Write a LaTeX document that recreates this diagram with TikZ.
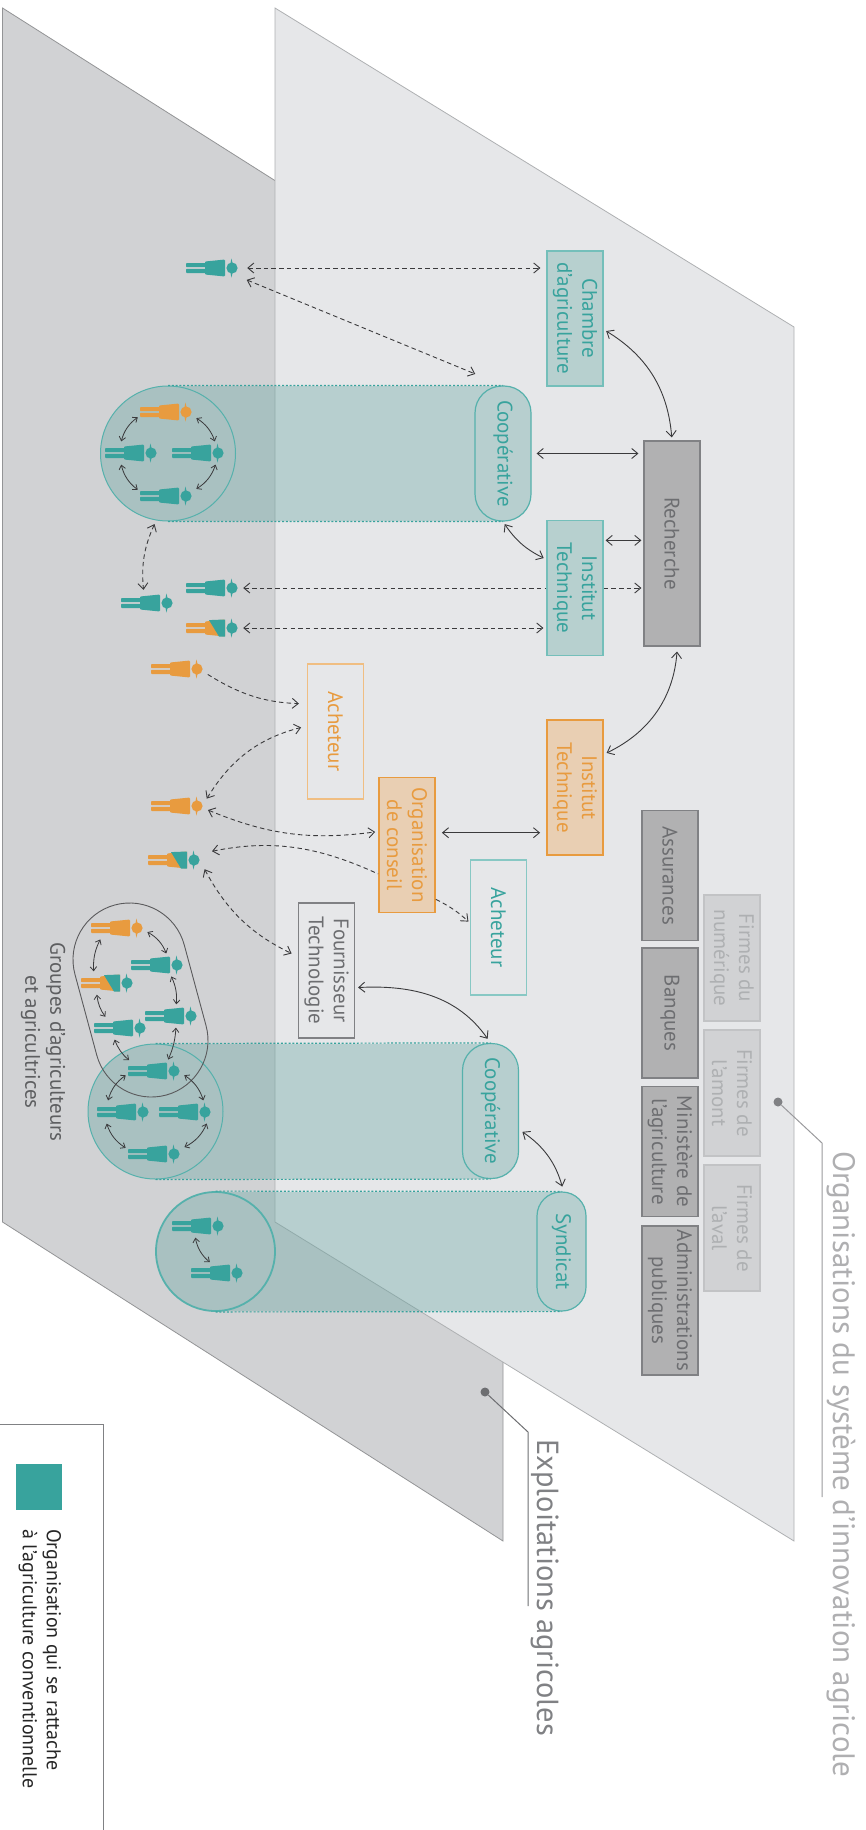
\documentclass[tikz,border=0pt]{standalone}
\usepackage{fontspec}
\setmainfont{PT Sans}
\usetikzlibrary{arrows.meta}
\definecolor{tealc}{HTML}{38A39D}
\definecolor{orangec}{HTML}{E89B3F}
\definecolor{linec}{HTML}{3A3A3C}
\definecolor{greyt}{HTML}{6D6E71}
\definecolor{mintfill}{HTML}{B7D0CF}
\definecolor{peachfill}{HTML}{E9CFB3}
\definecolor{greyline}{HTML}{808184}
\definecolor{greyfill}{HTML}{B1B1B2}
\definecolor{firmline}{HTML}{C2C3C5}
\definecolor{darkplane}{HTML}{D1D2D4}
\definecolor{lightplane}{HTML}{E6E7E9}
\definecolor{firmtext}{HTML}{AEB0B2}
\definecolor{pipec}{HTML}{58A09B}
\tikzset{
    barb/.tip={Straight Barb[length=6pt,width=10pt]},
    txt/.style={inner sep=0pt, rotate=-90, align=center, font=\fontsize{21}{25}\selectfont},
    orgbox/.style={txt, minimum width=135pt, minimum height=56pt, line width=1.2pt},
    boxteal/.style={orgbox, draw=tealc!70, fill=mintfill, text=tealc},
    boxline/.style={orgbox, draw=tealc!60, text=tealc},
    boxround/.style={orgbox, draw=tealc!85, text=tealc, rounded corners=27pt},
    boxorange/.style={orgbox, draw=orangec, line width=1.8pt, fill=peachfill, text=orangec},
    boxorline/.style={orgbox, draw=orangec!65, text=orangec},
    boxgrey/.style={orgbox, draw=greyline, fill=greyfill, text=greyt, minimum width=130pt},
    boxfirm/.style={orgbox, draw=firmline, fill=darkplane, text=firmtext, minimum width=126pt},
    ring/.style={circle, draw=tealc!85, line width=1pt, inner sep=0pt, minimum size=135pt},
    rim/.style={tealc, line width=1.2pt, dash pattern=on 2pt off 1.8pt},
    link/.style={draw=linec, line width=.9pt, barb-barb},
    dashlink/.style={link, dash pattern=on 4.5pt off 3.2pt},
    tinylink/.style={draw=linec, line width=.8pt, shorten >=2.5pt, shorten <=2.5pt, {Straight Barb[length=4pt,width=6.5pt]}-{Straight Barb[length=4pt,width=6.5pt]}},
    leaddot/.style={circle, inner sep=0pt, minimum size=9pt},
    pics/person/.style 2 args={code={
        \fill[#1, rounded corners=.8pt] (-46,-5) rectangle (-26,-.8) (-46,.8) rectangle (-26,5);
        \fill[#1, rounded corners=1pt] (-27,-6.5) -- (-7,-8.5) -- (-7,8.5) -- (-27,6.5) -- cycle;
        \fill[#2] (0,0) circle (5.6pt);
        \fill[#2] (-.5,-9.5) .. controls (1.2,-5) and (1.2,5) .. (-.5,9.5) .. controls (-2.2,5) and (-2.2,-5) .. (-.5,-9.5);
        \node[inner sep=0pt, minimum width=54pt, minimum height=18pt] (-bd) at (-19,0) {};
    }},
    pics/personmix/.style={code={
        \pic {person={orangec}{tealc}};
        \fill[tealc] (-23,-7.9) -- (-7,-8.5) -- (-7,8.5) -- (-13,8.5) -- cycle;
        \node[inner sep=0pt, minimum width=54pt, minimum height=18pt] (-bd) at (-19,0) {};
    }},
}
\begin{document}
\begin{tikzpicture}[x=1pt,y=-1pt]
    \useasboundingbox (0,0) rectangle (865,1830);
    % the two planes
    \filldraw[fill=darkplane, draw=greyline!85, line width=.8pt] (2.5,8) -- (503,325) -- (503,1541) -- (2.5,1222) -- cycle;
    \filldraw[fill=lightplane, draw=firmtext, line width=.8pt] (275,8) -- (794,327) -- (794,1541) -- (275,1222) -- cycle;

    % pipes between circles and organisations
    \begin{scope}[transparency group, opacity=.33]
        \fill[pipec] (168,453.5) circle (67.5pt);
        \fill[pipec] (168,386) rectangle (503,521);
        \fill[pipec, rounded corners=27pt] (475,386) rectangle (531,521);
    \end{scope}
    \begin{scope}[transparency group, opacity=.33]
        \fill[pipec] (155.5,1111.5) circle (67.5pt);
        \fill[pipec] (155.5,1044) rectangle (490,1179);
        \fill[pipec, rounded corners=27pt] (463,1044) rectangle (518,1179);
    \end{scope}
    \begin{scope}[transparency group, opacity=.33]
        \fill[pipec] (215.5,1251.5) circle (59.5pt);
        \fill[pipec] (215.5,1192) rectangle (561,1311);
        \fill[pipec, rounded corners=24pt] (537,1192) rectangle (586,1311);
    \end{scope}

    % organisations
    \node[boxteal] (chambre) at (575,318.5) {Chambre\\d'agriculture};
    \node[boxround] (coopa) at (503,453.5) {Coopérative};
    \node[boxgrey, minimum width=205pt] (rech) at (672,543.5) {Recherche};
    \node[boxteal] (insta) at (575,588) {Institut\\Technique};
    \node[boxorange] (instb) at (575,787.5) {Institut\\Technique};
    \node[boxorline] (achb) at (335.5,731.5) {Acheteur};
    \node[boxorange] (orga) at (407,845) {Organisation\\de conseil};
    \node[boxline] (acht) at (498.5,927.5) {Acheteur};
    \node[orgbox, draw=greyline, text=greyt] (four) at (326.5,970.5) {Fournisseur\\Technologie};
    \node[boxround] (coopb) at (490.5,1111) {Coopérative};
    \node[boxround, minimum width=119pt, minimum height=49pt, rounded corners=24pt] (synd) at (561.5,1251.5) {Syndicat};

    \node[boxgrey] (assu) at (670,875.5) {Assurances};
    \node[boxgrey] (banq) at (670,1013) {Banques};
    \node[boxgrey] (mini) at (670,1151.5) {Ministère de\\l'agriculture};
    \node[boxgrey, minimum width=149pt] (admi) at (670,1300.5) {Administrations\\publiques};
    \node[boxfirm] (firma) at (732,958) {Firmes du\\numérique};
    \node[boxfirm] (firmb) at (732,1093) {Firmes de\\l'amont};
    \node[boxfirm] (firmc) at (732,1228) {Firmes de\\l'aval};

    % circles and the group
    \node[ring] (circa) at (168,453.5) {};
    \node[ring] (circb) at (155.5,1111.5) {};
    \node[ring, minimum size=119pt, line width=1.8pt] (circc) at (215.5,1251.5) {};
    \node[draw=greyline!70!black, line width=.9pt, rounded corners=56.6pt, minimum width=113.2pt, minimum height=196.9pt, rotate=15.1, inner sep=0pt] (grp) at (140.5,1000) {};
    \draw[rim] (circa.north) -- (coopa.west);
    \draw[rim] (circa.south) -- (coopa.east);
    \draw[rim] (circb.north) -- (coopb.west);
    \draw[rim] (circb.south) -- (coopb.east);
    \draw[rim] (circc.north) -- (synd.west);
    \draw[rim] (circc.south) -- (synd.east);

    % farmers
    \pic (pa) at (232,268) {person={tealc}{tealc}};
    \pic (pb) at (232,588) {person={tealc}{tealc}};
    \pic (pc) at (232,628) {personmix};
    \pic (lb) at (167,603) {person={tealc}{tealc}};
    \pic (oa) at (197,669) {person={orangec}{orangec}};
    \pic (ob) at (197,806) {person={orangec}{orangec}};
    \pic (mc) at (194,860) {personmix};
    \pic (ca) at (186,412) {person={orangec}{orangec}};
    \pic (cb) at (151,453) {person={tealc}{tealc}};
    \pic (cc) at (218,453) {person={tealc}{tealc}};
    \pic (cd) at (186,496) {person={tealc}{tealc}};
    \pic (ga) at (137,928) {person={orangec}{orangec}};
    \pic (gb) at (177,965) {person={tealc}{tealc}};
    \pic (gc) at (127,983) {personmix};
    \pic (gd) at (191,1016) {person={tealc}{tealc}};
    \pic (ge) at (140,1028) {person={tealc}{tealc}};
    \pic (gf) at (174,1071) {person={tealc}{tealc}};
    \pic (ha) at (143,1112) {person={tealc}{tealc}};
    \pic (hb) at (205,1112) {person={tealc}{tealc}};
    \pic (hc) at (174,1154) {person={tealc}{tealc}};
    \pic (sa) at (218,1226) {person={tealc}{tealc}};
    \pic (sb) at (237,1273) {person={tealc}{tealc}};

    % dashed links
    \draw[dashlink, shorten <=7pt, shorten >=6pt] (pa-bd.east) -- (pa-bd.east -| chambre.south);
    \draw[dashlink, shorten <=7pt, shorten >=30pt] (pa-bd.south east) -- (coopa.west);
    \draw[dashlink, shorten <=4pt, shorten >=4pt] (circa.-100) to[bend right=15] (lb-bd.114);
    \draw[dashlink, barb-, shorten <=3pt] (pb-bd.east) -- (pb-bd.east -| insta.south);
    \draw[dashlink, -barb, shorten >=2pt] (pb-bd.east -| insta.north) -- (pb-bd.east -| rech.south);
    \draw[dashlink, shorten <=3pt, shorten >=3pt] (pc-bd.east) -- (pc-bd.east -| insta.south);
    \draw[dashlink, -barb, shorten <=3pt, shorten >=8pt] (oa-bd.-8) to[bend right=15] (achb.-134);
    \draw[dashlink, shorten <=3pt, shorten >=6pt] (ob-bd.10) to[bend left=22] (achb.-101);
    \draw[dashlink, shorten <=3pt, shorten >=3pt] (ob-bd.-6) to[bend right=15] (orga.-115);
    \draw[dashlink, barb-, shorten <=10pt] (mc-bd.14) to[bend left=18] (orga.-45);
    \draw[dashlink, shorten <=5pt, shorten >=7pt] (mc-bd.-10) to[bend right=18] (four.-116);
    \draw[dashlink, -barb, shorten >=2pt] (orga.28) to[bend left=8] (acht.-99);

    % solid links
    \draw[link, shorten >=3pt, shorten <=3pt] (chambre.69) to[bend left=27] (rech.west);
    \draw[link, shorten >=5pt, shorten <=5pt] (coopa.north) -- (coopa.north -| rech.south);
    \draw[link, shorten >=3pt, shorten <=3pt] (coopa.east) to[bend right=15] (insta.-135);
    \draw[link, shorten >=2pt, shorten <=2pt] (insta.149) -- (insta.149 -| rech.south);
    \draw[link, shorten >=3pt, shorten <=5pt] (rech.3) to[bend left=30] (instb.139);
    \draw[link, shorten >=6pt, shorten <=6pt] (orga.113) -- (orga.113 -| instb.south);
    \draw[link, shorten >=5pt, shorten <=3pt] (four.59) to[out=3, in=125] (coopb.west);
    \draw[link, shorten >=5pt, shorten <=4pt] (coopb.57) to[bend left=20] (synd.178);

    % links inside the circles and the group
    \draw[tinylink] (ca-bd.188) to[bend right=20] (cb-bd.141);
    \draw[tinylink] (ca-bd.-10) to[bend left=20] (cc-bd.29);
    \draw[tinylink] (cb-bd.219) to[bend right=20] (cd-bd.170);
    \draw[tinylink] (cc-bd.-28) to[bend left=20] (cd-bd.12);
    \draw[tinylink] (ga-bd.-6) to[bend left=20] (gb-bd.45);
    \draw[tinylink] (ga-bd.-151) to[bend right=15] (gc-bd.147);
    \draw[tinylink] (gb-bd.-37) to[bend left=15] (gd-bd.66);
    \draw[tinylink] (gc-bd.-141) to[bend right=15] (ge-bd.147);
    \draw[tinylink] (gd-bd.-66) to[bend left=10] (gf-bd.37);
    \draw[tinylink] (ge-bd.-128) to[bend right=15] (gf-bd.159);
    \draw[tinylink] (gf-bd.-174) to[bend right=20] (ha-bd.151);
    \draw[tinylink] (gf-bd.-6) to[bend left=20] (hb-bd.27);
    \draw[tinylink] (ha-bd.-153) to[bend right=20] (hc-bd.170);
    \draw[tinylink] (hb-bd.-23) to[bend left=20] (hc-bd.12);
    \draw[tinylink] (sa-bd.-114) to[bend right=20] (sb-bd.124);

    % titles
    \node[txt, text=greyt!85!black] (grptitle) at (43,1042) {Groupes d'agriculteurs\\et agricultrices};
    \node[txt, anchor=base west, font=\fontsize{30.5}{36}\selectfont, text=greyline] (exptitle) at (537,1439) {Exploitations agricoles};
    \node[txt, anchor=base west, font=\fontsize{31}{36}\selectfont, text=firmline!90!black] (orgtitle) at (833,1151) {Organisations du système d'innovation agricole};
    \node[leaddot, fill=greyt] (expdot) at (485,1392) {};
    \node[leaddot, fill=greyline] (orgdot) at (778,1102) {};
    \coordinate (expbend) at (528,1432);
    \coordinate (expend) at (528,1606);
    \coordinate (orgbend) at (822,1143);
    \coordinate (orgend) at (822,1497);
    \draw[greyt, line width=1pt] (expdot) -- (expbend) -- (expend);
    \draw[greyline!80, line width=1pt] (orgdot) -- (orgbend) -- (orgend);

    % legend
    \draw[greyline, line width=1pt] (-5,1424) -- (103,1424) -- (103,1840);
    \node[fill=tealc, inner sep=0pt, minimum size=46pt] (legsq) at (39,1487) {};
    \node[txt, anchor=west, align=left, font=\fontsize{20}{24}\selectfont, text=black!85] (legtxt) at (40,1529) {Organisation qui se rattache\\à l'agriculture conventionnelle};
\end{tikzpicture}
\end{document}
